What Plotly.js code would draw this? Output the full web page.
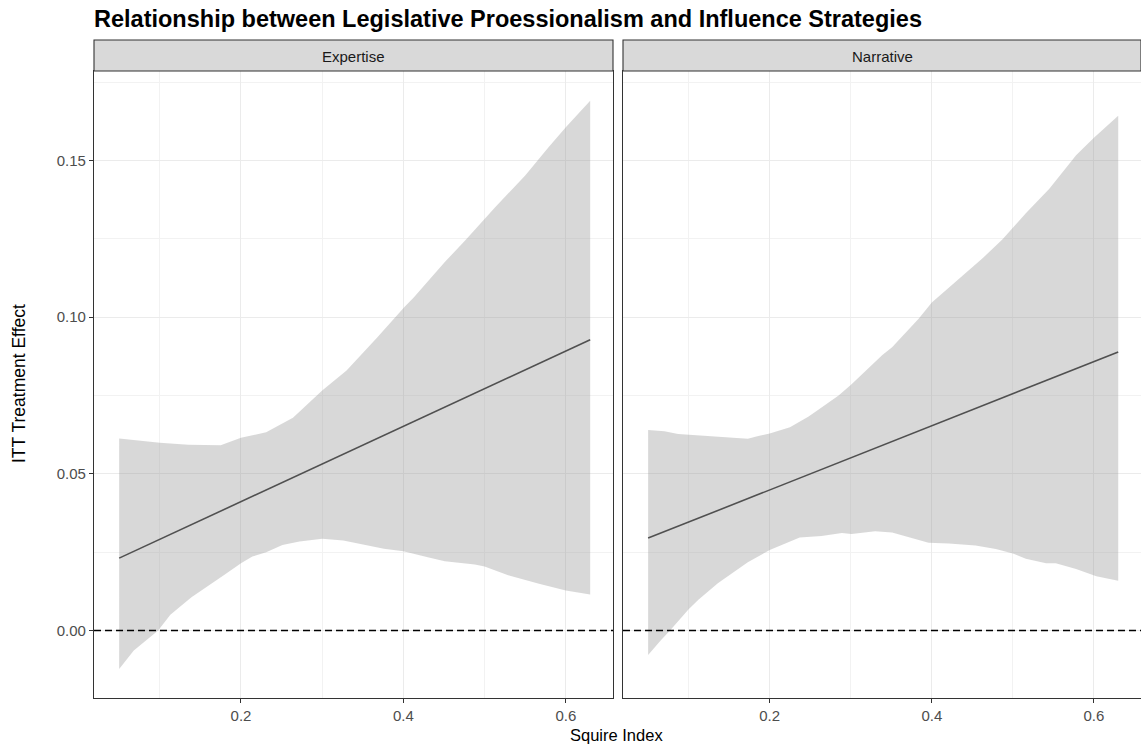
<!DOCTYPE html>
<html>
<head>
<meta charset="utf-8">
<script src="https://cdn.plot.ly/plotly-3.0.1.min.js"></script>
<style>html,body{margin:0;padding:0;background:#fff;}#chart{width:1141px;height:749px;}</style>
</head>
<body>
<div id="chart"></div>
<script>
// ---- data ----
const panels = ["Expertise", "Narrative"];

const expLineX = [0.05, 0.63];
const expLineY = [0.0231, 0.0928];
const expUpperX = [0.05,0.1,0.135,0.175,0.2,0.231,0.264,0.3,0.33,0.368,0.401,0.413,0.451,0.476,0.513,0.55,0.579,0.6,0.63];
const expUpperY = [0.0613,0.0599,0.0593,0.0591,0.0615,0.0633,0.0679,0.0766,0.083,0.0936,0.1032,0.1064,0.1176,0.1245,0.1351,0.1452,0.1543,0.1606,0.1691];
const expLowerX = [0.05,0.068,0.098,0.113,0.139,0.164,0.181,0.2,0.214,0.231,0.251,0.272,0.3,0.326,0.347,0.376,0.4,0.43,0.451,0.488,0.5,0.529,0.567,0.6,0.63];
const expLowerY = [-0.0123,-0.0064,0.0,0.005,0.0106,0.0149,0.018,0.0215,0.0236,0.025,0.0273,0.0284,0.0293,0.0287,0.0277,0.0261,0.0253,0.0234,0.0221,0.0211,0.0204,0.0176,0.0149,0.0128,0.0115];

const narLineX = [0.05, 0.63];
const narLineY = [0.0295, 0.0889];
const narUpperX = [0.05,0.07,0.087,0.132,0.173,0.186,0.2,0.225,0.248,0.26,0.285,0.3,0.318,0.339,0.351,0.368,0.384,0.4,0.417,0.442,0.463,0.487,0.5,0.516,0.545,0.578,0.6,0.63];
const narUpperY = [0.064,0.0636,0.0627,0.0618,0.0612,0.0621,0.0629,0.0649,0.0683,0.0705,0.075,0.0784,0.0828,0.0879,0.0904,0.0951,0.0996,0.1047,0.1086,0.1142,0.1189,0.1248,0.1287,0.1332,0.141,0.1517,0.1573,0.1643];
const narLowerX = [0.05,0.066,0.077,0.1,0.112,0.136,0.149,0.173,0.2,0.215,0.237,0.264,0.289,0.301,0.33,0.351,0.372,0.396,0.421,0.454,0.479,0.5,0.516,0.541,0.553,0.578,0.603,0.63];
const narLowerY = [-0.0078,-0.003,0.0,0.0068,0.0098,0.0151,0.0173,0.0218,0.0257,0.0274,0.0297,0.0302,0.0311,0.0308,0.0317,0.0313,0.0297,0.028,0.0278,0.0271,0.026,0.0246,0.0229,0.0215,0.0215,0.0196,0.0173,0.0159];

const xTickVals = [0.2, 0.4, 0.6];
const xTickText = ["0.2", "0.4", "0.6"];
const yTickVals = [0.0, 0.05, 0.10, 0.15];
const yTickText = ["0.00", "0.05", "0.10", "0.15"];

// ---- build ----
const FONT = "Liberation Sans, Arial, Helvetica, sans-serif";
const W = 1141, H = 749;
const px = v => v / W;
const py = v => (H - v) / H;

function ribbon(ux, uy, lx, ly, xa, ya) {
  return {
    x: ux.concat(lx.slice().reverse()),
    y: uy.concat(ly.slice().reverse()),
    xaxis: xa, yaxis: ya,
    type: "scatter", mode: "lines", fill: "toself",
    fillcolor: "rgba(153,153,153,0.38)",
    line: {width: 0, color: "rgba(0,0,0,0)"},
    hoverinfo: "skip", showlegend: false
  };
}
function fitLine(x, y, xa, ya) {
  return {x: x, y: y, xaxis: xa, yaxis: ya, type: "scatter", mode: "lines",
    line: {color: "#505050", width: 1.6}, showlegend: false};
}

const data = [
  ribbon(expUpperX, expUpperY, expLowerX, expLowerY, "x", "y"),
  fitLine(expLineX, expLineY, "x", "y"),
  ribbon(narUpperX, narUpperY, narLowerX, narLowerY, "x2", "y2"),
  fitLine(narLineX, narLineY, "x2", "y2")
];

const xRange = [0.019, 0.6581];
const yRange = [-0.02154, 0.17858];
const yDom = [py(698), py(71)];

function xAxis(dom, anchor) {
  return {
    domain: dom, anchor: anchor, range: xRange, fixedrange: true,
    tickmode: "array", tickvals: xTickVals, ticktext: xTickText,
    ticks: "outside", ticklen: 4, tickwidth: 1, tickcolor: "#333333",
    tickfont: {family: FONT, size: 15, color: "#4D4D4D"},
    showgrid: true, gridcolor: "#EBEBEB", gridwidth: 1,
    minor: {tickmode: "linear", tick0: 0.1, dtick: 0.2, showgrid: true, gridcolor: "#F2F2F2", gridwidth: 1, ticks: ""},
    showline: true, mirror: true, linecolor: "#333333", linewidth: 1.1,
    zeroline: false
  };
}
function yAxis(anchor, showLabels) {
  return {
    domain: yDom, anchor: anchor, range: yRange, fixedrange: true,
    tickmode: "array", tickvals: yTickVals, ticktext: yTickText, showticklabels: showLabels,
    ticks: showLabels ? "outside" : "", ticklen: 4, tickwidth: 1, tickcolor: "#333333",
    tickfont: {family: FONT, size: 15, color: "#4D4D4D"},
    showgrid: true, gridcolor: "#EBEBEB", gridwidth: 1,
    minor: {tickmode: "linear", tick0: 0.025, dtick: 0.05, showgrid: true, gridcolor: "#F2F2F2", gridwidth: 1, ticks: ""},
    showline: true, mirror: true, linecolor: "#333333", linewidth: 1.1,
    zeroline: false
  };
}

const xDom1 = [px(94), px(613)];
const xDom2 = [px(623), 1];

const shapes = [];
const annotations = [];
[[xDom1, "x"], [xDom2, "x2"]].forEach((p, i) => {
  shapes.push({type: "rect", xref: "paper", yref: "paper",
    x0: p[0][0], x1: p[0][1], y0: py(71), y1: py(40),
    fillcolor: "#D9D9D9", line: {color: "#333333", width: 1.1}, layer: "above"});
  shapes.push({type: "line", xref: p[1] + " domain", yref: i === 0 ? "y" : "y2",
    x0: 0, x1: 1, y0: 0, y1: 0, line: {color: "#000000", width: 1.4, dash: "7px,4px"}, layer: "above"});
  annotations.push({text: panels[i], xref: "paper", yref: "paper",
    x: (p[0][0] + p[0][1]) / 2, y: py(56), xanchor: "center", yanchor: "middle",
    showarrow: false, font: {family: FONT, size: 15, color: "#1A1A1A"}});
});
annotations.push({text: "Squire Index", xref: "paper", yref: "paper",
  x: px(616), y: py(735), xanchor: "center", yanchor: "middle", showarrow: false,
  font: {family: FONT, size: 16.5, color: "#000000"}});
annotations.push({text: "ITT Treatment Effect", xref: "paper", yref: "paper",
  x: px(19), y: py(384), xanchor: "center", yanchor: "middle", textangle: -90, showarrow: false,
  font: {family: FONT, size: 17.5, color: "#000000"}});

const layout = {
  width: W, height: H,
  margin: {l: 0, r: 0, t: 0, b: 0},
  paper_bgcolor: "#FFFFFF", plot_bgcolor: "#FFFFFF",
  title: {text: "<b>Relationship between Legislative Proessionalism and Influence Strategies</b>",
    font: {family: FONT, size: 23.5, color: "#000000"},
    xref: "paper", x: px(94), xanchor: "left", yref: "paper", y: py(19), yanchor: "middle"},
  xaxis: xAxis(xDom1, "y"),
  yaxis: yAxis("x", true),
  xaxis2: xAxis(xDom2, "y2"),
  yaxis2: yAxis("x2", false),
  shapes: shapes,
  annotations: annotations,
  showlegend: false
};

Plotly.newPlot("chart", data, layout, {displayModeBar: false, staticPlot: true});
</script>
</body>
</html>
